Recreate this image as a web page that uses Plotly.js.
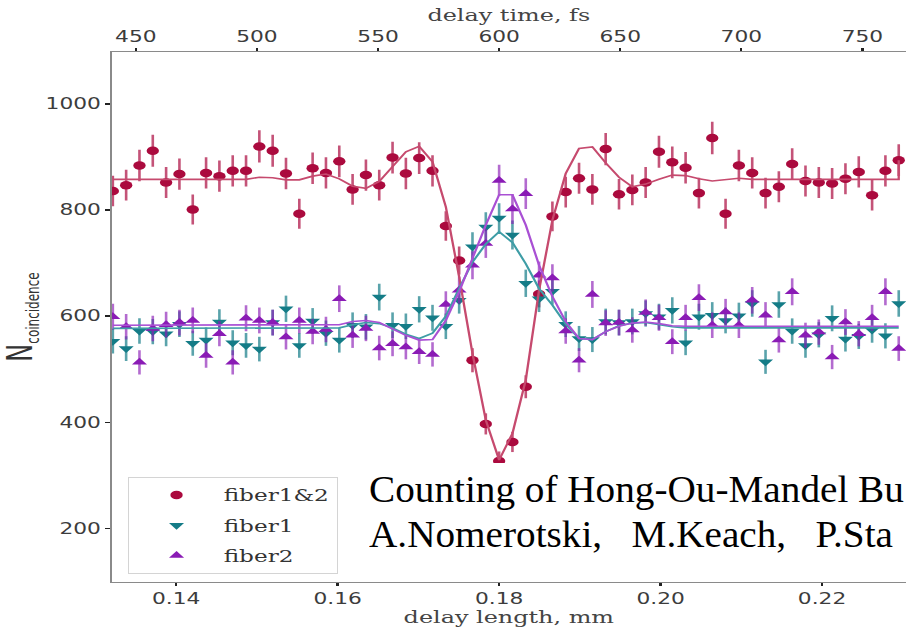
<!DOCTYPE html>
<html>
<head>
<meta charset="utf-8">
<script src="https://cdn.plot.ly/plotly-3.0.1.min.js"></script>
<style>
  html, body { margin: 0; padding: 0; background: #fff; overflow: hidden; width: 906px; height: 627px; }
  #wrap { position: absolute; left: 0; top: 0; width: 625px; height: 627px; transform: scaleX(1.4496); transform-origin: 0 0; }
  #note { position: absolute; left: 360px; top: 463px; width: 546px; height: 97px; background: #fff; }
  #noteText { position: absolute; left: 9px; top: 4px; transform: scaleX(1.06); transform-origin: 0 0;
          font-family: "Liberation Serif", "Times New Roman", serif; font-size: 37px; line-height: 45px;
          color: #000; white-space: pre; }
</style>
</head>
<body>
<div id="wrap"><div id="chart"></div></div>
<div id="note"><div id="noteText">Counting of Hong-Ou-Mandel Bu
A.Nomerotski,   M.Keach,   P.Sta</div></div>
<script>
// delay length (mm) of each measurement
const xs = [0.13215, 0.13380, 0.13545, 0.13710, 0.13875, 0.14040, 0.14205, 0.14370, 0.14535, 0.14700,
            0.14865, 0.15030, 0.15195, 0.15360, 0.15525, 0.15690, 0.15855, 0.16020, 0.16185, 0.16350,
            0.16515, 0.16680, 0.16845, 0.17010, 0.17175, 0.17340, 0.17505, 0.17670, 0.17835, 0.18000,
            0.18165, 0.18330, 0.18495, 0.18660, 0.18825, 0.18990, 0.19155, 0.19320, 0.19485, 0.19650,
            0.19815, 0.19980, 0.20145, 0.20310, 0.20475, 0.20640, 0.20805, 0.20970, 0.21135, 0.21300,
            0.21465, 0.21630, 0.21795, 0.21960, 0.22125, 0.22290, 0.22455, 0.22620, 0.22785, 0.22950];

// measured coincidences
const fiber12 = [836, 847, 884, 912, 852, 868, 801, 870, 864, 874, 874, 920, 912, 869, 793, 879, 870, 892, 839, 866,
                 847, 899, 869, 898, 874, 770, 705, 517, 397, 327, 363, 467, 642, 788, 834, 860, 839, 915, 830, 838,
                 852, 910, 890, 880, 832, 936, 793, 884, 870, 832, 844, 887, 855, 852, 850, 859, 872, 828, 874, 894];
const fiber1 = [553, 539, 572, 571, 567, 585, 549, 555, 589, 550, 545, 538, 588, 614, 545, 591, 568, 555, 583, 580,
                636, 583, 581, 613, 597, 581, 630, 731, 768, 785, 753, 662, 633, 647, 585, 558, 556, 590, 588, 590,
                605, 599, 611, 550, 599, 602, 592, 601, 624, 514, 622, 572, 545, 565, 596, 557, 562, 574, 563, 624];
const fiber2 = [599, 580, 513, 577, 584, 588, 592, 526, 567, 513, 596, 592, 588, 561, 592, 571, 575, 633, 564, 577,
                540, 548, 542, 533, 528, 622, 649, 696, 737, 856, 802, 831, 677, 672, 572, 517, 641, 587, 588, 574,
                607, 597, 552, 597, 635, 583, 608, 583, 630, 602, 555, 646, 564, 570, 523, 589, 567, 597, 646, 539];

// fitted curves (the fiber1&2 fit ends with one extra point at the last delay)
const fit12 = [858, 858, 858, 858, 858, 858, 858, 858, 858, 858, 858, 862, 861, 857, 857, 864, 868, 859, 845, 841,
               854, 882, 910, 920, 891, 806, 674, 530, 404, 329, 379, 480, 649, 781, 869, 916, 919, 889, 862, 844,
               849, 858, 866, 865, 859, 855, 857, 860, 858, 858, 858, 858, 858, 858, 858, 858, 858, 858, 858, 858, 894];
const fit1 = [577, 577, 577, 577, 577, 577, 577, 577, 577, 577, 577, 577, 577, 577, 577, 577, 577, 578, 584, 588,
              586, 578, 566, 558, 568, 600, 652, 702, 736, 759, 739, 699, 652, 621, 585, 558, 556, 571, 582, 587,
              588, 584, 580, 578, 578, 578, 578, 578, 578, 578, 578, 578, 578, 578, 578, 578, 578, 578, 578, 578];
const fit2 = [583, 583, 583, 583, 583, 583, 583, 583, 583, 583, 583, 583, 583, 583, 583, 583, 583, 584, 590, 592,
              588, 576, 564, 555, 556, 592, 646, 709, 772, 829, 829, 772, 696, 637, 590, 558, 556, 571, 581, 587,
              589, 586, 582, 581, 581, 581, 581, 581, 581, 581, 581, 581, 581, 581, 581, 581, 581, 581, 581, 581];

const seriesNames = ['fiber1&2', 'fiber1', 'fiber2'];
const bottomTicks = [0.14, 0.16, 0.18, 0.20, 0.22];
const bottomTickText = ['0.14', '0.16', '0.18', '0.20', '0.22'];
const topTicks = [450, 500, 550, 600, 650, 700, 750];
const yTicks = [200, 400, 600, 800, 1000];
const mmRange = [0.132, 0.2304];
const yRange = [99, 1098];
const fsPerMm = 600 / 0.18;   // 0.18 mm of delay length = 600 fs of delay time

// the fits are drawn against the delay-time (top) axis
const xsFs = xs.map(v => v * fsPerMm);
const fitFs = xsFs.concat([xsFs[xsFs.length - 1]]);
const fsRange = mmRange.map(v => v * fsPerMm);

const C12 = '#AB0A3E', C1 = '#147C87', C2 = '#8A1BB5';

const traces = [
  {x: fitFs, y: fit12, xaxis: 'x2', mode: 'lines', line: {color: '#C64A6E', width: 1.6}, showlegend: false, legendgroup: 'a', hoverinfo: 'skip'},
  {x: xsFs, y: fit1, xaxis: 'x2', mode: 'lines', line: {color: '#3E9DA6', width: 1.6}, showlegend: false, legendgroup: 'b', hoverinfo: 'skip'},
  {x: xsFs, y: fit2, xaxis: 'x2', mode: 'lines', line: {color: '#A950D4', width: 1.6}, showlegend: false, legendgroup: 'c', hoverinfo: 'skip'},
  {x: xs, y: fiber12, name: seriesNames[0], legendgroup: 'a', mode: 'markers',
   marker: {symbol: 'circle', size: 8.5, color: C12},
   error_y: {type: 'sqrt', color: 'rgba(171,10,62,0.7)', thickness: 1.8, width: 0}},
  {x: xs, y: fiber1, name: seriesNames[1], legendgroup: 'b', mode: 'markers',
   marker: {symbol: 'triangle-down', size: 9, color: C1},
   error_y: {type: 'sqrt', color: 'rgba(20,124,135,0.7)', thickness: 1.8, width: 0}},
  {x: xs, y: fiber2, name: seriesNames[2], legendgroup: 'c', mode: 'markers',
   marker: {symbol: 'triangle-up', size: 9, color: C2},
   error_y: {type: 'sqrt', color: 'rgba(138,27,181,0.65)', thickness: 1.8, width: 0}}
];

const tickFont = {family: 'DejaVu Sans', size: 15, color: '#3c3c3c'};
const titleFont = {family: 'DejaVu Serif', size: 16.5, color: '#444'};
const axisCommon = {showline: true, linecolor: '#8a8a8a', linewidth: 1.4, ticks: 'outside', ticklen: 3,
                    tickwidth: 1.6, tickcolor: '#222', showgrid: false, zeroline: false, tickfont: tickFont};

const layout = {
  width: 625, height: 627,
  margin: {l: 77, r: 0, t: 52, b: 45},
  paper_bgcolor: '#fff', plot_bgcolor: '#fff',
  showlegend: true,
  xaxis: Object.assign({}, axisCommon, {range: mmRange, tickmode: 'array', tickvals: bottomTicks, ticktext: bottomTickText,
          title: {text: 'delay length, mm', font: titleFont, standoff: 2}}),
  xaxis2: Object.assign({}, axisCommon, {range: fsRange, overlaying: 'x', side: 'top', anchor: 'y', tickmode: 'array',
          tickvals: topTicks, title: {text: 'delay time, fs', font: titleFont, standoff: 2}}),
  yaxis: Object.assign({}, axisCommon, {range: yRange, tickmode: 'array', tickvals: yTicks,
          title: {text: 'N<sub><span style="font-size:12px">coincidence</span></sub>', font: {family: 'DejaVu Sans', size: 24, color: '#333'}, standoff: 6}}),
  legend: {x: 0.0206, y: 0.198, xanchor: 'left', yanchor: 'top', bgcolor: '#fff', bordercolor: '#d4d4d4', borderwidth: 1,
           font: {family: 'DejaVu Serif', size: 16, color: '#333'}, itemwidth: 55, traceorder: 'grouped', tracegroupgap: 6.5}
};

Plotly.newPlot('chart', traces, layout, {displayModeBar: false, staticPlot: true});
</script>
</body>
</html>
